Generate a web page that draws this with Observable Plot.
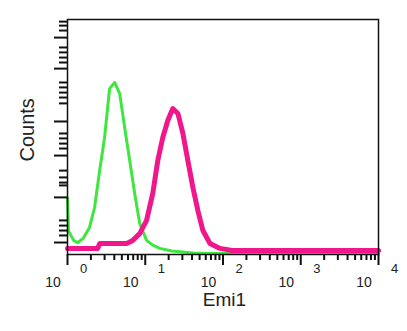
<!DOCTYPE html>
<html>
<head>
<meta charset="utf-8">
<script src="https://cdn.jsdelivr.net/npm/d3@7"></script>
<script src="https://cdn.jsdelivr.net/npm/@observablehq/plot@0.6"></script>
<style>
  html, body { margin: 0; padding: 0; background: #fff; }
  #chart { width: 407px; height: 331px; overflow: hidden; }
</style>
</head>
<body>
<div id="chart"></div>
<script>
// Green histogram (control)
const greenX = [1.0, 1.03, 1.2, 1.35, 1.6, 1.92, 2.23, 2.59, 3.0, 3.48, 4.04, 4.69, 5.44, 6.31, 7.32, 8.49, 10.4, 12.5, 15.4, 22, 41, 68, 10000];
const greenY = [24, 10, 6, 5, 7, 11.5, 20, 35.7, 49.8, 70.6, 73.2, 68.5, 54, 40, 26, 13.2, 6, 4, 2.6, 1.5, 0.6, 0.4, 0.4];
// Magenta histogram (Emi1)
const pinkX = [1.0, 1.5, 2.44, 2.6, 4, 5.77, 6.9, 8.49, 10.4, 12.5, 14.5, 16.8, 19.5, 22.6, 26.3, 30.5, 35.3, 41, 47.5, 55.2, 68, 91.5, 130, 10000];
const pinkY = [2.6, 2.6, 2.6, 4.7, 4.7, 4.7, 6.0, 8.9, 14.5, 26, 40, 49.8, 57, 62.1, 60, 51.5, 40, 28.5, 18.7, 10.2, 4.7, 2.6, 1.7, 1.7];
// Axis ticks
const decades = [1, 10, 100, 1000, 10000];
const decadeExps = ["0", "1", "2", "3", "4"];
const minorX = [2,3,4,5,6,7,8,9,20,30,40,50,60,70,80,90,200,300,400,500,600,700,800,900,2000,3000,4000,5000,6000,7000,8000,9000];
const yMajor = [92.3, 79.1, 56.6, 42.1, 24.3, 5.1];
const yMinor = [99.1, 97.4, 95.3, 88.1, 86.0, 83.8, 81.7, 73.2, 71.1, 68.9, 66.8, 64.3, 51.5, 49.4, 47.2, 45.1, 35.7, 32.8, 30.6, 29.4, 14.5, 12.3, 10.2, 8.1];
const xLabel = "Emi1";
const yLabel = "Counts";

const green = greenX.map((x, i) => ({x, y: greenY[i]}));
const pink = pinkX.map((x, i) => ({x, y: pinkY[i]}));

const chart = Plot.plot({
  width: 407,
  height: 331,
  marginLeft: 67,
  marginRight: 29,
  marginTop: 19,
  marginBottom: 77,
  style: {fontFamily: "'Liberation Sans', Arial, sans-serif", background: "#fff", color: "#222"},
  x: {type: "log", domain: [1, 10000]},
  y: {domain: [0, 100]},
  marks: [
    Plot.line(green, {x: "x", y: "y", curve: "linear", stroke: "#3ee63e", strokeWidth: 3}),
    Plot.line(pink, {x: "x", y: "y", curve: "linear", stroke: "#f0168c", strokeWidth: 5}),
    Plot.frame({stroke: "#111", strokeWidth: 1.5}),
    Plot.axisX(decades, {tickSize: 11, tickFormat: () => "", label: null, stroke: "#111", strokeWidth: 2}),
    Plot.axisX(minorX, {tickSize: 6, tickFormat: () => "", label: null, stroke: "#111", strokeWidth: 2}),
    Plot.axisY(yMajor, {tickSize: 13, tickFormat: () => "", label: null, stroke: "#111", strokeWidth: 2}),
    Plot.axisY(yMinor, {tickSize: 8, tickFormat: () => "", label: null, stroke: "#111", strokeWidth: 2}),
    Plot.text(decades, {x: d => d, text: () => "10", frameAnchor: "bottom", dy: 32, dx: -14.5, fontSize: 14, fill: "#222"}),
    Plot.text(decades, {x: d => d, text: (d, i) => decadeExps[i], frameAnchor: "bottom", dy: 18, dx: 16, fontSize: 13, fill: "#222"}),
    Plot.text([xLabel], {text: d => d, frameAnchor: "bottom", dy: 51.5, dx: 1.5, fontSize: 19, fill: "#222"}),
    Plot.text([yLabel], {text: d => d, frameAnchor: "left", dx: -40, dy: 24.5, rotate: -90, fontSize: 20, fill: "#222"})
  ]
});
document.getElementById("chart").appendChild(chart);
</script>
</body>
</html>
